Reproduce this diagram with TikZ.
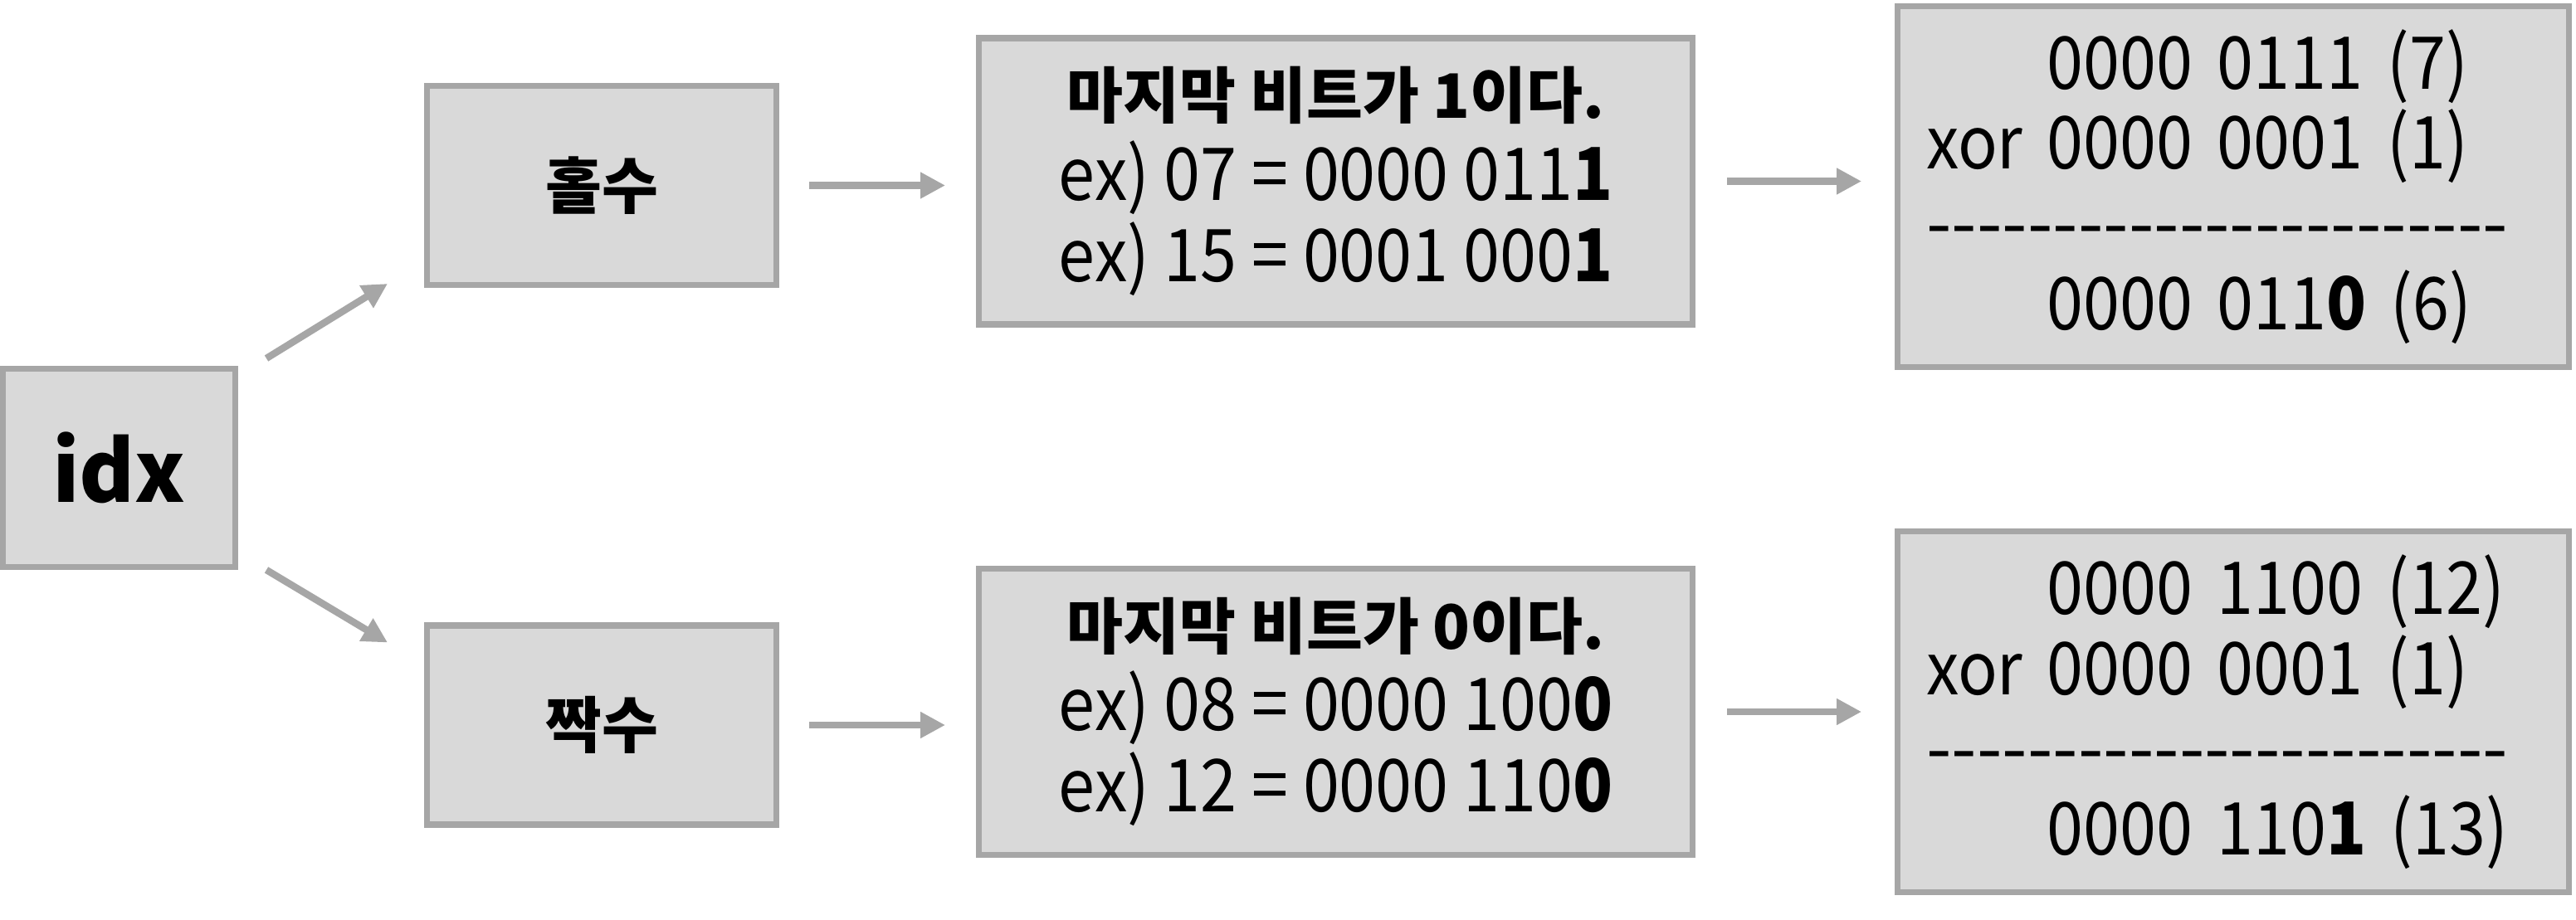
\documentclass[tikz,border=0pt]{standalone}
\usepackage{fontspec}
\setmainfont{Noto Sans CJK KR}
\newfontfamily\narrowfont{Noto Sans CJK KR}[FakeStretch=0.9]
\usepackage{xcolor}
\definecolor{boxFill}{HTML}{D9D9D9}
\definecolor{boxLine}{HTML}{A6A6A6}
\usetikzlibrary{arrows.meta, positioning}

% a row of 23 hyphens (braces keep them from turning into dashes)
\newcommand{\dashrow}{-{}-{}-{}-{}-{}-{}-{}-{}-{}-{}-{}-{}-{}-{}-{}-{}-{}-{}-{}-{}-{}-{}-}

\begin{document}
\begin{tikzpicture}[
  font=\fontsize{25}{28}\selectfont,
  every node/.style={align=center},
  box/.style={rectangle, draw=boxLine, line width=2pt, fill=boxFill, text=black, inner sep=0pt},
  idxBox/.style={box, minimum width=28mm, minimum height=23.9mm, font=\fontsize{29}{34}\selectfont\bfseries},
  parityBox/.style={box, minimum width=42.1mm, minimum height=24mm, font=\fontsize{21}{25}\selectfont\bfseries},
  bitBox/.style={box, minimum width=86mm, minimum height=34.5mm, font=\narrowfont\fontsize{25}{28}\selectfont},
  xorBox/.style={box, minimum width=80.9mm, minimum height=43.5mm, text width=74mm, align=left, font=\narrowfont\fontsize{25}{27.5}\selectfont},
  arrow/.style={-{Triangle[length=3mm, width=3mm]}, line width=2.4pt, boxLine},
]
\useasboundingbox (0,0) rectangle (31.04,11.08);

% ------------------- input -------------------
\node[idxBox] (idx) at (1.435,5.44) {idx};

% ------------------- odd / even -------------------
\node[parityBox, right=22.4mm of idx, yshift=34.05mm] (odd) {홀수};
\node[parityBox, right=22.4mm of idx, yshift=-31mm] (even) {짝수};

\draw[arrow] ([xshift=3.4mm, yshift=0.9mm]idx.north east) -- ([xshift=-4.4mm, yshift=0.5mm]odd.south west);
\draw[arrow] ([xshift=3.4mm]idx.south east) -- ([xshift=-4.4mm, yshift=-2.4mm]even.north west);

% ------------------- last bit -------------------
\node[bitBox, right=23.7mm of odd, yshift=0.5mm] (bitOdd) {%
  {\rmfamily\fontsize{21}{28}\selectfont\bfseries 마지막 비트가 1이다.}\\
  ex) 07 = 0000 011\textbf{1}\\
  ex) 15 = 0001 000\textbf{1}};
\node[bitBox, right=23.7mm of even, yshift=1.6mm] (bitEven) {%
  {\rmfamily\fontsize{21}{28}\selectfont\bfseries 마지막 비트가 0이다.}\\
  ex) 08 = 0000 100\textbf{0}\\
  ex) 12 = 0000 110\textbf{0}};

\draw[arrow, shorten <=3.6mm, shorten >=3.7mm] (odd.east) -- (odd.east -| bitOdd.west);
\draw[arrow, shorten <=3.6mm, shorten >=3.7mm] (even.east) -- (even.east -| bitEven.west);

% ------------------- xor 1 -------------------
\node[xorBox, right=24mm of bitOdd, yshift=-0.65mm] (xorOdd) {%
  \phantom{xor} 0000 0111 (7)\\
  xor 0000 0001 (1)\\
  {\rmfamily\dashrow}\\
  \phantom{xor} 0000 011\textbf{0} (6)};
\node[xorBox, right=24mm of bitEven] (xorEven) {%
  \phantom{xor} 0000 1100 (12)\\
  xor 0000 0001 (1)\\
  {\rmfamily\dashrow}\\
  \phantom{xor} 0000 110\textbf{1} (13)};

\draw[arrow, shorten <=3.8mm, shorten >=4mm] (bitOdd.east) -- (bitOdd.east -| xorOdd.west);
\draw[arrow, shorten <=3.8mm, shorten >=4mm] (bitEven.east) -- (bitEven.east -| xorEven.west);

\end{tikzpicture}
\end{document}
